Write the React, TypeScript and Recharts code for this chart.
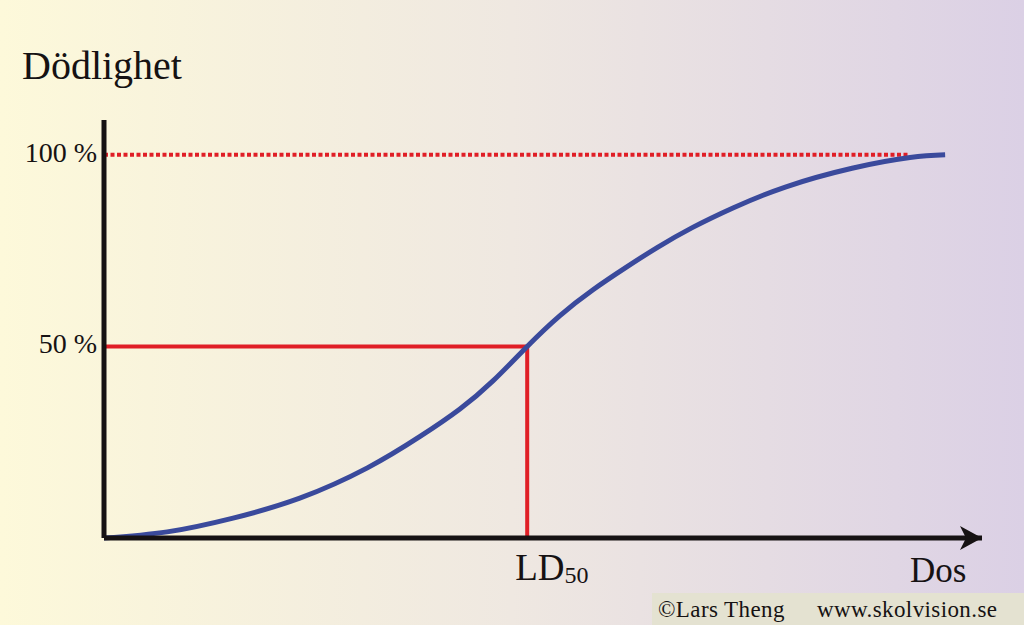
import React from "react";
import {
  ComposedChart,
  Line,
  XAxis,
  YAxis,
  ReferenceLine,
  ReferenceDot,
  Label,
} from "recharts";

// dose (0-100 along x axis) and mortality (% dead)
const dose = [0, 7.2, 14.7, 22.3, 30.0, 36.0, 40.5, 44.3, 48.2, 51.9, 55.7, 59.5, 63.0, 67.0, 71.7, 77.6, 85.2, 91.8, 95.8];
const mortality = [0, 1.6, 5.2, 10.4, 18.3, 26.5, 33.6, 41.0, 50, 58.0, 64.8, 70.7, 75.8, 81.0, 86.2, 91.6, 96.5, 99.3, 100];

const yTicks = [50, 100];
const yTickLabels = ["50 %", "100 %"];
const LD50 = 48.2;
const dottedEnd = 91.8;

const chartData = dose.map((d, i) => ({ dose: d, mort: mortality[i] }));

const FONT = "Liberation Serif, DejaVu Serif, serif";
const INK = "#161213";
const RED = "#e01e26";
const BLUE = "#3a4a9c";

function YTick(props: any) {
  const { x, y, payload } = props;
  const idx = yTicks.indexOf(payload.value);
  return (
    <text x={x} y={y + 7} textAnchor="end" fontFamily={FONT} fontSize={28} fill={INK}>
      {yTickLabels[idx]}
    </text>
  );
}

function XTick(props: any) {
  const { x, y } = props;
  return (
    <text x={x - 12} y={y + 42} fontFamily={FONT} fontSize={37} fill={INK}>
      LD
      <tspan fontSize={24} dy={3}>50</tspan>
    </text>
  );
}

function Arrow(props: any) {
  const { cx, cy } = props;
  if (cx == null || cy == null) return null;
  const pts = [
    [cx, cy],
    [cx - 22, cy - 12],
    [cx - 16, cy],
    [cx - 22, cy + 12],
  ]
    .map((p) => p.join(","))
    .join(" ");
  return <polygon points={pts} fill={INK} />;
}

export default function App() {
  return (
    <div
      style={{
        position: "absolute",
        left: 0,
        top: 0,
        width: 1024,
        height: 625,
        background: "linear-gradient(to right, #fdf9da 0%, #efe8e1 50%, #dbd0e5 100%)",
        overflow: "hidden",
      }}
    >
      <ComposedChart
        width={1024}
        height={625}
        data={chartData}
        margin={{ top: 120, right: 42, bottom: 86, left: 103 }}
      >
        <XAxis
          type="number"
          dataKey="dose"
          domain={[0, 100]}
          ticks={[LD50]}
          interval={0}
          height={1}
          tickSize={0}
          tickMargin={0}
          tickLine={false}
          tick={<XTick />}
          axisLine={{ stroke: INK, strokeWidth: 5 }}
        >
          <Label
            content={(p: any) => {
              const vb = p.viewBox;
              return (
                <text x={vb.x + vb.width - 72} y={vb.y + 44} fontFamily={FONT} fontSize={35} fill={INK}>
                  Dos
                </text>
              );
            }}
          />
        </XAxis>
        <YAxis
          type="number"
          domain={[0, 109.1]}
          ticks={yTicks}
          interval={0}
          width={1}
          tickSize={0}
          tickMargin={7}
          tickLine={false}
          tick={<YTick />}
          axisLine={{ stroke: INK, strokeWidth: 5 }}
        >
          <Label
            content={(p: any) => {
              const vb = p.viewBox;
              return (
                <text x={22} y={vb.y - 41} fontFamily={FONT} fontSize={40} fill={INK}>
                  Dödlighet
                </text>
              );
            }}
          />
        </YAxis>
        <ReferenceLine
          segment={[
            { x: 0, y: 100 },
            { x: dottedEnd, y: 100 },
          ]}
          stroke={RED}
          strokeWidth={4}
          strokeDasharray="4 2.5"
        />
        <ReferenceLine
          segment={[
            { x: 0, y: 50 },
            { x: LD50, y: 50 },
          ]}
          stroke={RED}
          strokeWidth={4}
        />
        <ReferenceLine
          segment={[
            { x: LD50, y: 50 },
            { x: LD50, y: 0 },
          ]}
          stroke={RED}
          strokeWidth={4}
        />
        <Line
          type="natural"
          dataKey="mort"
          stroke={BLUE}
          strokeWidth={5}
          dot={false}
          activeDot={false}
          isAnimationActive={false}
        />
        <ReferenceDot x={100} y={0} r={0} shape={<Arrow />} ifOverflow="visible" />
      </ComposedChart>
      <div
        style={{
          position: "absolute",
          left: 652,
          top: 593,
          width: 372,
          height: 32,
          background: "#e4e2d1",
          fontFamily: FONT,
          fontSize: 23,
          letterSpacing: 0.4,
          color: INK,
          lineHeight: "32px",
          whiteSpace: "pre",
        }}
      >
        <span style={{ position: "absolute", left: 6, top: 1 }}>©Lars Theng</span>
        <span style={{ position: "absolute", left: 165, top: 1 }}>www.skolvision.se</span>
      </div>
    </div>
  );
}
